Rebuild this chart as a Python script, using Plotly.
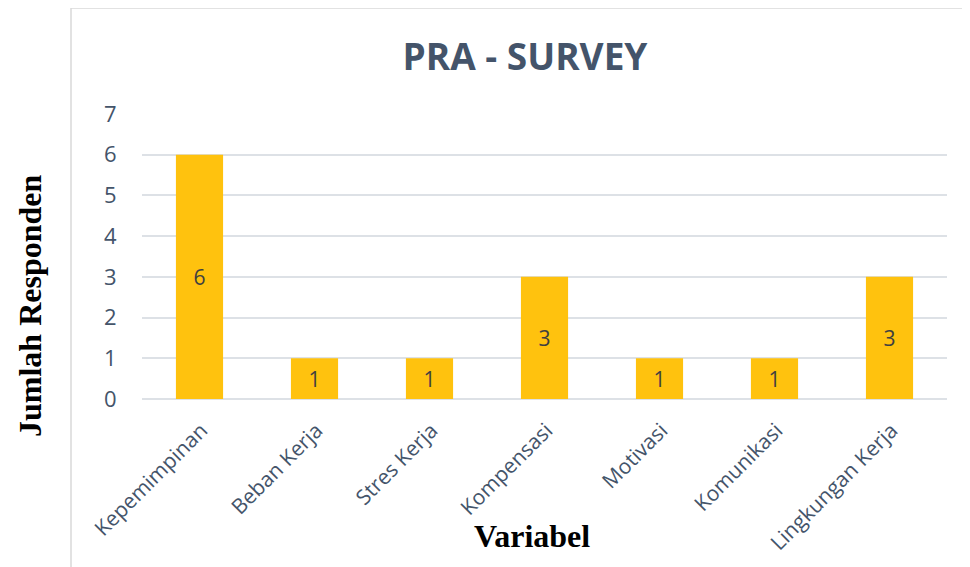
import plotly.graph_objects as go

categories = ["Kepemimpinan", "Beban Kerja", "Stres Kerja", "Kompensasi",
              "Motivasi", "Komunikasi", "Lingkungan Kerja"]
values = [6, 1, 1, 3, 1, 1, 3]
y_ticks = [0, 1, 2, 3, 4, 5, 6, 7]

# page has an 8px body margin; figure coords = page coords - 8
OFF = 8
W, H = 962, 559
L, T = 142 - OFF, 114 - OFF
R = W - (947 - OFF)
B = H - (399 - OFF)
PW, PH = W - L - R, H - T - B


def px(xp):
    return (xp - OFF - L) / PW


def py(yp):
    return (H - B - (yp - OFF)) / PH


fig = go.Figure()
fig.add_trace(go.Bar(
    x=categories, y=values,
    text=[str(v) for v in values],
    textposition="inside", insidetextanchor="middle",
    textfont=dict(family="Open Sans", size=21, color="#404040"),
    marker=dict(color="#FFC20E", line=dict(width=0)),
    width=0.41,
    hoverinfo="skip",
))

fig.update_layout(
    width=W, height=H,
    margin=dict(l=L, r=R, t=T, b=B),
    paper_bgcolor="white", plot_bgcolor="white",
    showlegend=False,
    title=dict(text="<b>PRA - SURVEY</b>", x=(525 - OFF) / W, xanchor="center",
               y=1 - (57 - OFF) / H, yanchor="middle",
               font=dict(family="Open Sans", size=37, color="#44546A")),
    xaxis=dict(
        tickangle=-45,
        tickfont=dict(family="Open Sans", size=21, color="#44546A"),
        showgrid=False, showline=False, zeroline=False,
        ticks="", ticklabelstandoff=14, ticklabelshift=2,
    ),
    yaxis=dict(
        range=[0, 7], tickvals=y_ticks,
        tickfont=dict(family="Open Sans", size=22, color="#44546A"),
        showgrid=True, gridcolor="#DDE1E6", gridwidth=1.5,
        zeroline=True, zerolinecolor="#DDE1E6", zerolinewidth=1.5,
        showline=False, ticks="outside", ticklen=20, tickcolor="rgba(0,0,0,0)",
    ),
    font=dict(family="Open Sans"),
)

# chart frame
fig.add_shape(type="rect", xref="paper", yref="paper",
              x0=px(71), x1=px(990), y0=py(590), y1=py(8),
              line=dict(color="#D9D9D9", width=1.5), fillcolor="rgba(0,0,0,0)",
              layer="below")

# axis titles
fig.add_annotation(text="<b>Jumlah Responden</b>", xref="paper", yref="paper",
                   x=px(30), y=py(306),
                   textangle=-90, showarrow=False, xanchor="center", yanchor="middle",
                   font=dict(family="Liberation Serif", size=32, color="#000000"))
fig.add_annotation(text="<b>Variabel</b>", xref="paper", yref="paper",
                   x=px(532), y=py(536),
                   showarrow=False, xanchor="center", yanchor="middle",
                   font=dict(family="Liberation Serif", size=32, color="#000000"))

fig.write_html("out.html")
